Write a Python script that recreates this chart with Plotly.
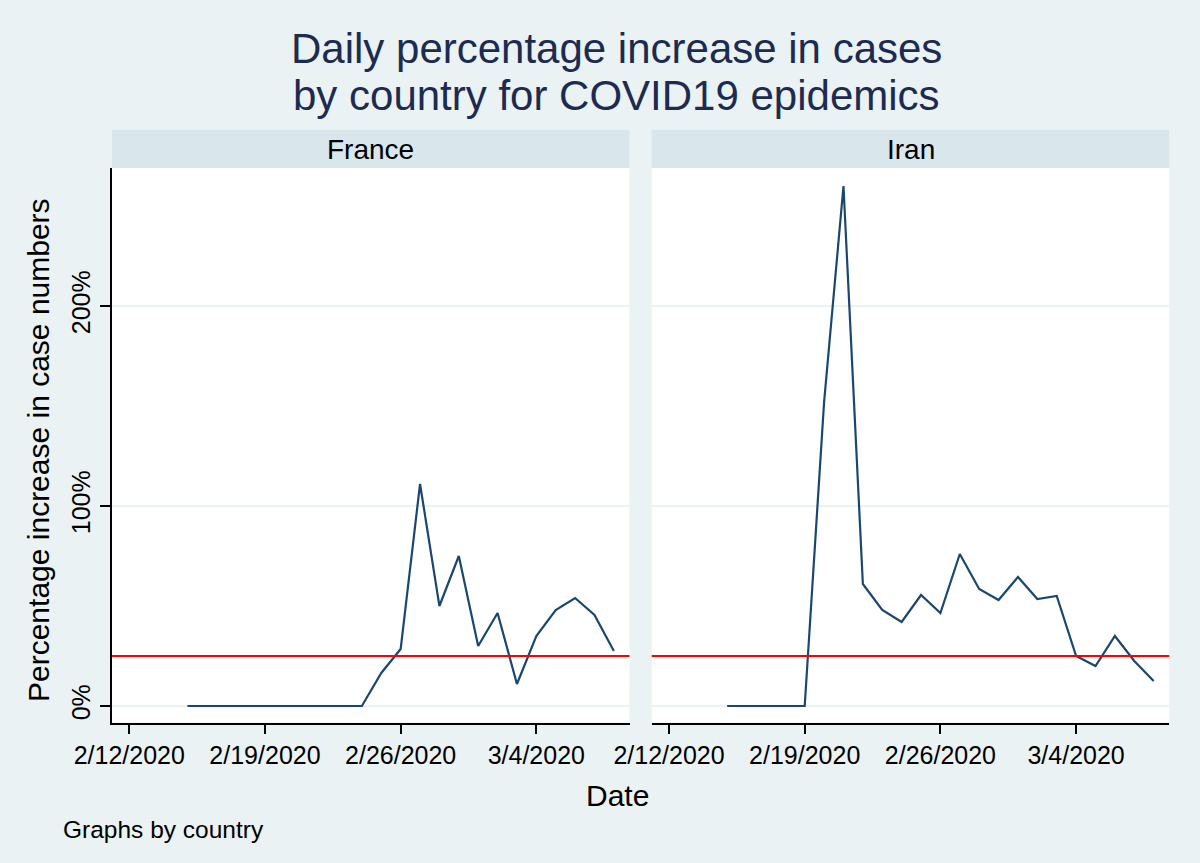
import plotly.graph_objects as go

W, H = 1200, 863

dates = ["2020-02-15", "2020-02-16", "2020-02-17", "2020-02-18", "2020-02-19",
         "2020-02-20", "2020-02-21", "2020-02-22", "2020-02-23", "2020-02-24",
         "2020-02-25", "2020-02-26", "2020-02-27", "2020-02-28", "2020-02-29",
         "2020-03-01", "2020-03-02", "2020-03-03", "2020-03-04", "2020-03-05",
         "2020-03-06", "2020-03-07", "2020-03-08"]

france_pct = [0, 0, 0, 0, 0, 0, 0, 0, 0, 0,
              16.5, 28.5, 111, 50, 75, 30, 46.5, 11, 35, 48, 54, 45.5, 27.5]

iran_pct = [0, 0, 0, 0, 0,
            152, 260, 61, 48, 42, 55.5, 46.5, 76, 58.5, 53, 64.5, 53.5, 55,
            25, 20, 35, 22.5, 12.5]

threshold_pct = 25

tick_dates = ["2020-02-12", "2020-02-19", "2020-02-26", "2020-03-04"]
tick_labels = ["2/12/2020", "2/19/2020", "2/26/2020", "3/4/2020"]
y_ticks = [0, 100, 200]
y_tick_labels = ["0%", "100%", "200%"]

countries = ["France", "Iran"]

BG = "#EAF2F3"
STRIP = "#D9E6EB"
NAVY = "#1A476F"
FONT = "Liberation Sans, Arial, sans-serif"

def px_x(p):
    return p / W

def px_y(p):
    return 1 - p / H

fig = go.Figure()

for i, vals in enumerate([france_pct, iran_pct]):
    sfx = "" if i == 0 else "2"
    fig.add_trace(go.Scatter(x=dates, y=vals, mode="lines",
                             line=dict(color=NAVY, width=2.2),
                             xaxis="x" + sfx, yaxis="y" + sfx,
                             showlegend=False))

x_range = ["2020-02-11 02:34", "2020-03-08 19:22"]
y_range = [-8.25, 269]
y_dom = [px_y(722.5), px_y(168)]

common_x = dict(type="date", range=x_range, tickvals=tick_dates, ticktext=tick_labels,
                ticks="outside", ticklen=10, tickwidth=1.5, tickcolor="black",
                showline=True, linecolor="black", linewidth=1.5,
                showgrid=False, zeroline=False, automargin=False,
                tickfont=dict(family=FONT, size=25, color="black"))

fig.update_layout(
    width=W, height=H,
    margin=dict(l=0, r=0, t=0, b=0),
    paper_bgcolor=BG, plot_bgcolor="white",
    font=dict(family=FONT, color="black"),
    xaxis=dict(domain=[px_x(112), px_x(629.5)], anchor="y", **common_x),
    xaxis2=dict(domain=[px_x(651.7), px_x(1169.3)], anchor="y2", **common_x),
    yaxis=dict(domain=y_dom, range=y_range, anchor="x",
               tickvals=y_ticks, ticktext=y_tick_labels, tickangle=-90,
               ticks="outside", ticklen=10, tickwidth=1.5, tickcolor="black",
               showline=True, linecolor="black", linewidth=1.5,
               showgrid=True, gridcolor=BG, gridwidth=2, zeroline=False,
               automargin=False,
               tickfont=dict(family=FONT, size=25, color="black")),
    yaxis2=dict(domain=y_dom, range=y_range, anchor="x2", matches="y",
                tickvals=y_ticks, showticklabels=False, ticks="",
                showline=False, showgrid=True, gridcolor=BG, gridwidth=2,
                zeroline=False, automargin=False),
)

shapes = []
annotations = []
for i, name in enumerate(countries):
    sfx = "" if i == 0 else "2"
    shapes.append(dict(type="rect", xref="x" + sfx + " domain", yref="paper",
                       x0=0, x1=1, y0=px_y(168), y1=px_y(130),
                       fillcolor=STRIP, line=dict(width=0), layer="below"))
    annotations.append(dict(text=name, xref="x" + sfx + " domain", yref="paper",
                            x=0.5, y=px_y(149), xanchor="center", yanchor="middle",
                            showarrow=False,
                            font=dict(family=FONT, size=28, color="black")))
    shapes.append(dict(type="line", xref="x" + sfx + " domain", yref="y" + sfx,
                       x0=0, x1=1, y0=threshold_pct, y1=threshold_pct,
                       line=dict(color="#FF0000", width=2)))

annotations += [
    dict(text="Daily percentage increase in cases", xref="paper", yref="paper",
         x=px_x(616.5), y=px_y(48), xanchor="center", yanchor="middle", showarrow=False,
         font=dict(family=FONT, size=42, color="#1C2B4F")),
    dict(text="by country for COVID19 epidemics", xref="paper", yref="paper",
         x=px_x(616.5), y=px_y(96), xanchor="center", yanchor="middle", showarrow=False,
         font=dict(family=FONT, size=42, color="#1C2B4F")),
    dict(text="Date", xref="paper", yref="paper",
         x=px_x(617), y=px_y(795), xanchor="center", yanchor="middle", showarrow=False,
         font=dict(family=FONT, size=30, color="black")),
    dict(text="Percentage increase in case numbers", xref="paper", yref="paper",
         x=px_x(38), y=px_y(450), xanchor="center", yanchor="middle", showarrow=False,
         textangle=-90, font=dict(family=FONT, size=30, color="black")),
    dict(text="Graphs by country", xref="paper", yref="paper",
         x=px_x(61), y=px_y(829), xanchor="left", yanchor="middle", showarrow=False,
         font=dict(family=FONT, size=24.5, color="black")),
]

fig.update_layout(shapes=shapes, annotations=annotations)

fig.write_html("out.html",
               config={"displayModeBar": False},
               post_script="document.body.style.margin='0';"
                           "document.body.style.background='" + BG + "';")
